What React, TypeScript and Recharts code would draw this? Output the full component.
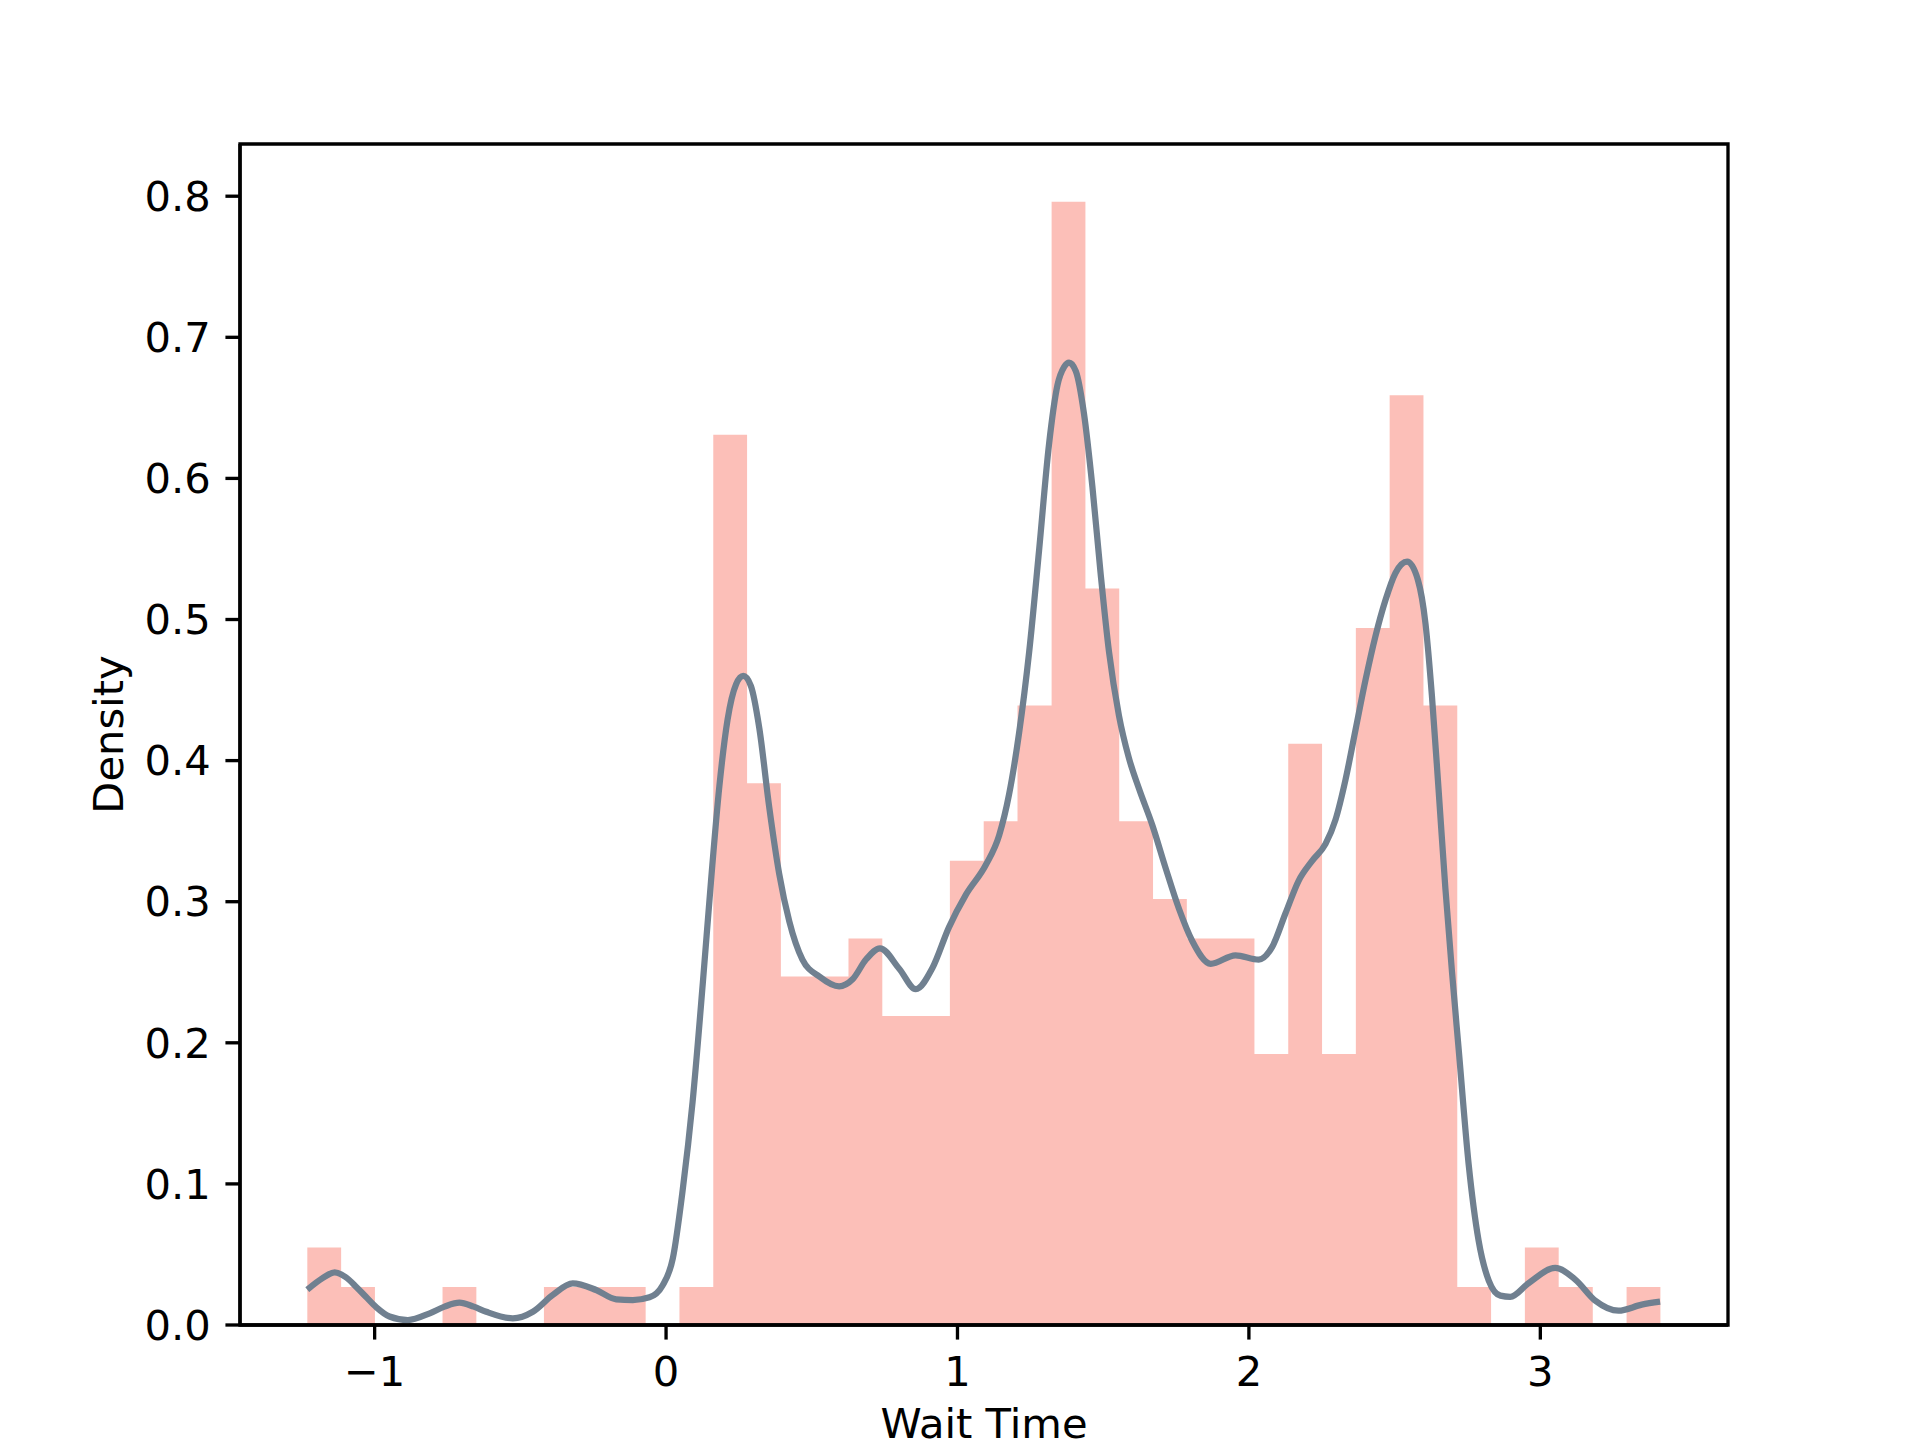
import React from 'react';
import { ComposedChart, XAxis, YAxis, Area, Line, ReferenceArea } from 'recharts';

// Histogram bin edges (41 edges -> 40 bins)
const binEdges = [
  -1.231, -1.115, -0.999, -0.883, -0.767, -0.651, -0.535, -0.419, -0.302, -0.186,
  -0.070, 0.046, 0.162, 0.278, 0.394, 0.510, 0.626, 0.742, 0.858, 0.974,
  1.090, 1.206, 1.323, 1.439, 1.555, 1.671, 1.787, 1.903, 2.019, 2.135,
  2.251, 2.367, 2.483, 2.599, 2.715, 2.831, 2.947, 3.063, 3.180, 3.296, 3.412,
];

// Density of each bin
const binDensity = [
  0.055, 0.027, 0, 0, 0.027, 0, 0, 0.027, 0.027, 0.027,
  0, 0.027, 0.631, 0.384, 0.247, 0.247, 0.274, 0.219, 0.219, 0.329,
  0.357, 0.439, 0.796, 0.522, 0.357, 0.302, 0.274, 0.274, 0.192, 0.412,
  0.192, 0.494, 0.659, 0.439, 0.027, 0, 0.055, 0.027, 0, 0.027,
];

// KDE curve samples
const kdeX = [
  -1.231, -1.18, -1.137, -1.1, -1.063, -1.03, -0.994, -0.949, -0.886, -0.811,
  -0.76, -0.709, -0.66, -0.617, -0.526, -0.457, -0.389, -0.32, -0.24, -0.171,
  -0.114, -0.057, -0.012, 0.023, 0.057, 0.091, 0.126, 0.154, 0.183, 0.211,
  0.24, 0.265, 0.291, 0.32, 0.354, 0.388, 0.423, 0.468, 0.526, 0.594,
  0.64, 0.686, 0.734, 0.8, 0.857, 0.914, 0.971, 1.029, 1.097, 1.143,
  1.177, 1.211, 1.246, 1.28, 1.314, 1.343, 1.366, 1.383, 1.406, 1.434,
  1.463, 1.491, 1.52, 1.554, 1.588, 1.623, 1.669, 1.714, 1.76, 1.806,
  1.869, 1.954, 2.034, 2.08, 2.126, 2.171, 2.217, 2.263, 2.297, 2.331,
  2.366, 2.4, 2.434, 2.469, 2.503, 2.543, 2.58, 2.606, 2.628, 2.651,
  2.674, 2.697, 2.72, 2.754, 2.788, 2.823, 2.863, 2.897, 2.96, 3.051,
  3.12, 3.189, 3.268, 3.348, 3.411,
];
const kdeY = [
  0.025, 0.033, 0.0373, 0.034, 0.027, 0.02, 0.0125, 0.006, 0.0035, 0.0083,
  0.013, 0.0158, 0.013, 0.0094, 0.0047, 0.0094, 0.0213, 0.0295, 0.0248, 0.0182,
  0.0177, 0.0196, 0.028, 0.047, 0.0956, 0.158, 0.242, 0.314, 0.382, 0.429,
  0.454, 0.46, 0.453, 0.423, 0.367, 0.32, 0.286, 0.259, 0.247, 0.24,
  0.245, 0.259, 0.267, 0.2525, 0.238, 0.253, 0.282, 0.305, 0.326, 0.347,
  0.376, 0.419, 0.477, 0.549, 0.624, 0.666, 0.679, 0.682, 0.676, 0.646,
  0.594, 0.533, 0.477, 0.432, 0.402, 0.38, 0.354, 0.324, 0.295, 0.272,
  0.256, 0.262, 0.259, 0.268, 0.292, 0.315, 0.329, 0.341, 0.358, 0.386,
  0.422, 0.457, 0.488, 0.514, 0.533, 0.541, 0.528, 0.497, 0.446, 0.379,
  0.31, 0.25, 0.195, 0.114, 0.06, 0.0315, 0.0208, 0.02, 0.0297, 0.0404,
  0.0322, 0.0172, 0.0101, 0.0144, 0.0165,
];

const xTicks = [-1, 0, 1, 2, 3];
const yTicks = [0, 0.1, 0.2, 0.3, 0.4, 0.5, 0.6, 0.7, 0.8];
const xLabel = 'Wait Time';
const yLabel = 'Density';

const X_MIN = -1.462;
const X_MAX = 3.644;
const Y_MAX = 0.837;

const histData = binEdges.map((x, i) => ({
  x,
  d: i < binDensity.length ? binDensity[i] : binDensity[binDensity.length - 1],
}));
const kdeData = kdeX.map((x, i) => ({ x, k: kdeY[i] }));

const FONT = 'DejaVu Sans';
const FS = 41.67;
const LW = 3.33;

const fmtX = (v: number) => (v < 0 ? '\u2212' + Math.abs(v) : String(v));
const fmtY = (v: number) => v.toFixed(1);

const XLabelContent = (props: any) => {
  const vb = props.viewBox || { x: 240, y: 1325, width: 1488, height: 100 };
  const cx = vb.x + vb.width / 2;
  return (
    <text x={cx} y={vb.y + 113} textAnchor="middle" fontFamily={FONT} fontSize={FS} fill="#000">
      {xLabel}
    </text>
  );
};

const YLabelContent = (props: any) => {
  const vb = props.viewBox || { x: 40, y: 144, width: 200, height: 1181 };
  const bx = vb.x + vb.width - 117;
  const cy = vb.y + vb.height / 2;
  return (
    <text
      x={bx}
      y={cy}
      transform={`rotate(-90, ${bx}, ${cy})`}
      textAnchor="middle"
      fontFamily={FONT}
      fontSize={FS}
      fill="#000"
    >
      {yLabel}
    </text>
  );
};

export default function App() {
  return (
    <div style={{ width: 1920, height: 1440, background: '#fff' }}>
      <style>{'body{margin:0;}'}</style>
      <ComposedChart
        width={1920}
        height={1440}
        margin={{ top: 144, right: 192, bottom: 15, left: 40 }}
      >
        <XAxis
          type="number"
          dataKey="x"
          domain={[X_MIN, X_MAX]}
          allowDataOverflow
          ticks={xTicks}
          tickFormatter={fmtX}
          height={100}
          axisLine={{ stroke: '#000', strokeWidth: LW }}
          tickLine={{ stroke: '#000', strokeWidth: LW }}
          tickSize={14.58}
          tickMargin={16.5}
          tick={{ fill: '#000', fontSize: FS, fontFamily: FONT }}
          interval={0}
          label={{ content: XLabelContent }}
        />
        <YAxis
          type="number"
          domain={[0, Y_MAX]}
          allowDataOverflow
          ticks={yTicks}
          tickFormatter={fmtY}
          width={200}
          axisLine={{ stroke: '#000', strokeWidth: LW }}
          tickLine={{ stroke: '#000', strokeWidth: LW }}
          tickSize={14.58}
          tickMargin={14.58}
          tick={{ fill: '#000', fontSize: FS, fontFamily: FONT }}
          interval={0}
          label={{ content: YLabelContent }}
        />
        <Area
          data={histData}
          dataKey="d"
          type="stepAfter"
          fill="#FA8072"
          fillOpacity={0.5}
          stroke="none"
          dot={false}
          activeDot={false}
          isAnimationActive={false}
        />
        <Line
          data={kdeData}
          dataKey="k"
          type="monotone"
          stroke="#708090"
          strokeWidth={6.25}
          dot={false}
          activeDot={false}
          isAnimationActive={false}
        />
        <ReferenceArea
          x1={X_MIN}
          x2={X_MAX}
          y1={0}
          y2={Y_MAX}
          ifOverflow="visible"
          fill="none"
          fillOpacity={0}
          stroke="#000"
          strokeWidth={LW}
        />
      </ComposedChart>
    </div>
  );
}
